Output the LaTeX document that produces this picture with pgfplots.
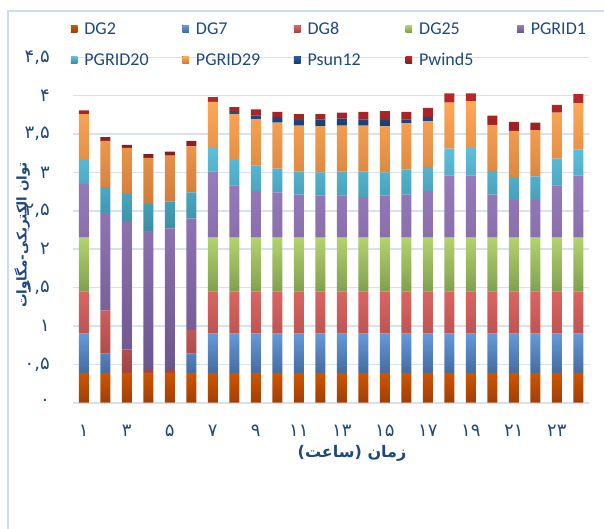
\documentclass[border=0pt]{standalone}
\usepackage{fontspec}
\setmainfont{Carlito}
\newfontfamily\fa[Script=Arabic]{DejaVu Sans}
\usepackage{pgfplots}
\usepackage{pgfplotstable}
\pgfplotsset{compat=1.18}
\TeXXeTstate=1
\definecolor{axiscol}{RGB}{31,73,125}
\definecolor{gridcol}{RGB}{214,226,242}
\definecolor{framecol}{RGB}{205,219,238}
\definecolor{dgAt}{RGB}{206,86,0}\definecolor{dgAb}{RGB}{160,62,8}
\definecolor{dgBt}{RGB}{102,152,216}\definecolor{dgBb}{RGB}{68,108,162}
\definecolor{dgCt}{RGB}{219,101,98}\definecolor{dgCb}{RGB}{160,70,68}
\definecolor{dgDt}{RGB}{180,210,110}\definecolor{dgDb}{RGB}{128,160,80}
\definecolor{pgAt}{RGB}{152,124,188}\definecolor{pgAb}{RGB}{108,86,142}
\definecolor{pgBt}{RGB}{92,192,222}\definecolor{pgBb}{RGB}{58,142,164}
\definecolor{pgCt}{RGB}{255,168,86}\definecolor{pgCb}{RGB}{208,124,58}
\definecolor{psunt}{RGB}{40,92,162}\definecolor{psunb}{RGB}{24,60,115}
\definecolor{pwt}{RGB}{186,40,40}\definecolor{pwb}{RGB}{128,30,30}

\pgfplotstableread{
h DGtwo DGseven DGeight DGtwentyfive PGone PGtwenty PGtwentynine Psun Pwind
1  0.39 0.51 0.55 0.70 0.70 0.31 0.60 0.00 0.05
2  0.39 0.25 0.56 0.00 1.27 0.34 0.60 0.00 0.05
3  0.39 0.00 0.30 0.00 1.68 0.35 0.60 0.00 0.04
4  0.39 0.00 0.05 0.00 1.80 0.35 0.60 0.00 0.05
5  0.39 0.00 0.05 0.00 1.83 0.35 0.60 0.00 0.05
6  0.39 0.25 0.31 0.00 1.45 0.34 0.60 0.00 0.07
7  0.39 0.51 0.55 0.70 0.86 0.31 0.60 0.01 0.05
8  0.39 0.51 0.55 0.70 0.68 0.33 0.60 0.04 0.05
9  0.39 0.51 0.55 0.70 0.61 0.33 0.60 0.05 0.08
10 0.39 0.51 0.55 0.70 0.59 0.31 0.60 0.07 0.07
11 0.39 0.51 0.55 0.70 0.56 0.30 0.60 0.07 0.08
12 0.39 0.51 0.55 0.70 0.55 0.30 0.60 0.09 0.07
13 0.39 0.51 0.55 0.70 0.55 0.31 0.60 0.09 0.08
14 0.39 0.51 0.55 0.70 0.53 0.33 0.60 0.08 0.10
15 0.39 0.51 0.55 0.70 0.55 0.30 0.60 0.08 0.12
16 0.39 0.51 0.55 0.70 0.56 0.33 0.60 0.05 0.10
17 0.39 0.51 0.55 0.70 0.61 0.31 0.60 0.05 0.12
18 0.39 0.51 0.55 0.70 0.81 0.35 0.60 0.00 0.12
19 0.39 0.51 0.55 0.70 0.81 0.37 0.60 0.00 0.10
20 0.39 0.51 0.55 0.70 0.56 0.31 0.60 0.00 0.12
21 0.39 0.51 0.55 0.70 0.49 0.30 0.60 0.00 0.12
22 0.39 0.51 0.55 0.70 0.49 0.31 0.60 0.00 0.10
23 0.39 0.51 0.55 0.70 0.68 0.35 0.60 0.00 0.10
24 0.39 0.51 0.55 0.70 0.81 0.34 0.60 0.00 0.12
}\datatable

\newcommand{\legtext}[1]{\makebox[98pt][l]{\rule[-1pt]{0pt}{14pt}\smash{#1}}}

\begin{document}
\begin{tikzpicture}
\begin{axis}[
  at={(73pt,-402.7pt)}, anchor=south west,
  width=516pt, height=345.4pt, scale only axis,
  ybar stacked, bar width=10pt,
  xmin=0.5, xmax=24.5, ymin=0, ymax=4.5,
  xtick={1,3,5,7,9,11,13,15,17,19,21,23},
  xticklabels={۱,۳,۵,۷,۹,۱۱,۱۳,۱۵,۱۷,۱۹,۲۱,۲۳},
  ytick={0,0.5,1,1.5,2,2.5,3,3.5,4,4.5},
  yticklabels={{۰},{۰,۵},{۱},{۱,۵},{۲},{۲,۵},{۳},{۳,۵},{۴},{۴,۵}},
  major tick length=0pt,
  axis line style={draw=none},
  ymajorgrids, grid style={gridcol, line width=1.6pt},
  tick label style={font=\fa\fontsize{18}{20}\selectfont, text=axiscol, inner sep=0pt},
  yticklabel style={anchor=east, xshift=-23pt},
  xticklabel style={anchor=center, yshift=-28pt},
  xlabel={\fa\bfseries\beginR زمان (ساعت)\endR},
  ylabel={\fa\bfseries\beginR توان الکتریکی\hbox{-}مگاوات\endR},
  every axis x label/.style={at={(axis description cs:0.5407,-0.1456)}, anchor=center, font=\fontsize{16}{18}\selectfont, text=axiscol},
  every axis y label/.style={at={(axis description cs:-0.0988,0.4855)}, anchor=center, rotate=90, font=\fontsize{13.5}{15}\selectfont, text=axiscol},
  legend columns=5,
  legend cell align=left,
  legend image code/.code={\fill[#1] (0pt,-3.3pt) rectangle (6.6pt,3.3pt);},
  legend style={at={(axis description cs:-0.0043,1.1036)}, anchor=north west,
    draw=none, fill=none, inner sep=0pt, outer sep=0pt, row sep=16.5pt,
    nodes={inner sep=0pt, text=axiscol},
    font=\fontsize{18}{20}\selectfont,
    /tikz/every odd column/.append style={column sep=7pt}},
]
\addplot[draw=none, top color=dgAt, bottom color=dgAb] table[x=h,y=DGtwo]{\datatable};
\addlegendentry{\legtext{DG2}}
\addplot[draw=none, top color=dgBt, bottom color=dgBb] table[x=h,y=DGseven]{\datatable};
\addlegendentry{\legtext{DG7}}
\addplot[draw=none, top color=dgCt, bottom color=dgCb] table[x=h,y=DGeight]{\datatable};
\addlegendentry{\legtext{DG8}}
\addplot[draw=none, top color=dgDt, bottom color=dgDb] table[x=h,y=DGtwentyfive]{\datatable};
\addlegendentry{\legtext{DG25}}
\addplot[draw=none, top color=pgAt, bottom color=pgAb] table[x=h,y=PGone]{\datatable};
\addlegendentry{\legtext{PGRID1}}
\addplot[draw=none, top color=pgBt, bottom color=pgBb] table[x=h,y=PGtwenty]{\datatable};
\addlegendentry{\legtext{PGRID20}}
\addplot[draw=none, top color=pgCt, bottom color=pgCb] table[x=h,y=PGtwentynine]{\datatable};
\addlegendentry{\legtext{PGRID29}}
\addplot[draw=none, top color=psunt, bottom color=psunb] table[x=h,y=Psun]{\datatable};
\addlegendentry{\legtext{Psun12}}
\addplot[draw=none, top color=pwt, bottom color=pwb] table[x=h,y=Pwind]{\datatable};
\addlegendentry{\legtext{Pwind5}}
\end{axis}
\draw[framecol, line width=1.6pt] (7.7pt,-540pt) -- (7.7pt,-11pt) -- (620pt,-11pt);
\pgfresetboundingbox
\useasboundingbox (0pt,0pt) rectangle (604pt,-529pt);
\end{tikzpicture}
\end{document}
